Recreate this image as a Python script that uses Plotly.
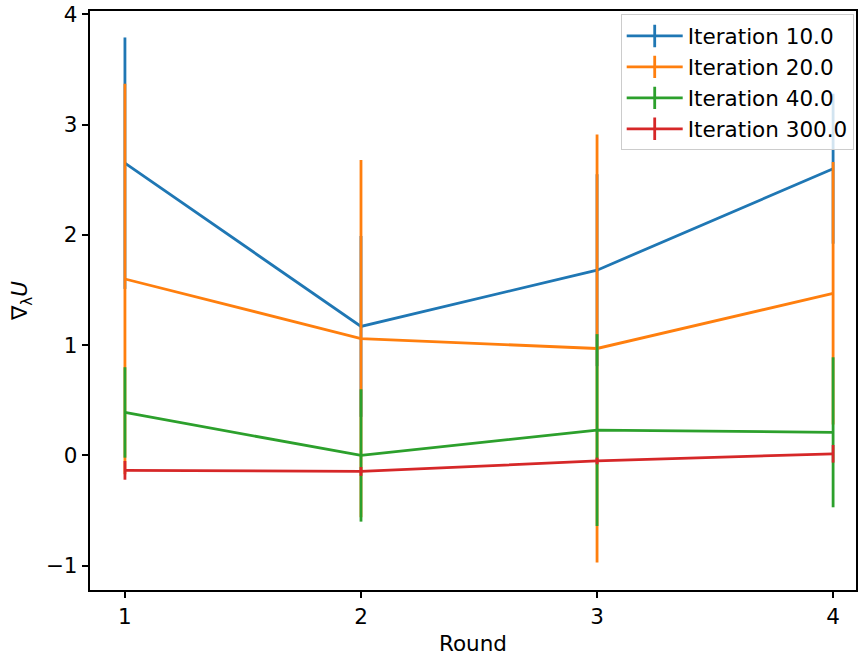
import plotly.graph_objects as go

# Gradient of utility per round, one series per iteration count
rounds = [1, 2, 3, 4]
series_names = ["Iteration 10.0", "Iteration 20.0", "Iteration 40.0", "Iteration 300.0"]
colors = ["#1f77b4", "#ff7f0e", "#2ca02c", "#d62728"]

mean_it10 = [2.65, 1.17, 1.68, 2.60]
err_it10 = [1.14, 0.82, 0.87, 0.68]
mean_it20 = [1.60, 1.06, 0.97, 1.47]
err_it20 = [1.77, 1.62, 1.94, 1.19]
mean_it40 = [0.39, 0.00, 0.23, 0.21]
err_it40 = [0.41, 0.60, 0.87, 0.68]
mean_it300 = [-0.135, -0.145, -0.05, 0.015]
err_it300 = [0.085, 0.04, 0.03, 0.08]

means = [mean_it10, mean_it20, mean_it40, mean_it300]
errs = [err_it10, err_it20, err_it40, err_it300]

FONT = "DejaVu Sans"
FS = 21.5
LW = 2.8

fig = go.Figure()

for name, color, m, e in zip(series_names, colors, means, errs):
    fig.add_trace(go.Scatter(
        x=rounds, y=m, mode="lines", name=name,
        line=dict(color=color, width=LW),
        error_y=dict(type="data", array=e, symmetric=True,
                     color=color, thickness=LW, width=0),
        showlegend=False, hoverinfo="skip",
    ))

# Legend entries drawn as a line with a vertical tick, like errorbar handles
for i, (name, color) in enumerate(zip(series_names, colors)):
    fig.add_trace(go.Scatter(
        x=[None], y=[None], mode="lines+markers", name=name,
        line=dict(color=color, width=LW),
        marker=dict(symbol="line-ns", size=20,
                    line=dict(color=color, width=LW)),
        legendgroup=f"g{i}", showlegend=True,
    ))

axis_common = dict(
    showline=True, mirror=True, linecolor="black", linewidth=1.5,
    ticks="outside", ticklen=6.5, tickwidth=1.5, tickcolor="black",
    showgrid=False, zeroline=False, ticklabeloverflow="allow",
    tickfont=dict(family=FONT, size=FS, color="black"),
)

fig.update_layout(
    width=860, height=657,
    margin=dict(l=90, r=2, t=8, b=67),
    paper_bgcolor="white", plot_bgcolor="white",
    font=dict(family=FONT, size=FS, color="black"),
    xaxis=dict(range=[0.852, 4.097], tickvals=rounds,
               title=dict(text="Round", font=dict(family=FONT, size=FS), standoff=8),
               **axis_common),
    yaxis=dict(range=[-1.22, 4.03], tickvals=[-1, 0, 1, 2, 3, 4],
               title=dict(text="∇<sub>λ</sub><i>U</i>", font=dict(family=FONT, size=FS), standoff=12),
               **axis_common),
    legend=dict(
        x=0.997, y=0.994, xanchor="right", yanchor="top",
        bgcolor="rgba(255,255,255,0.8)", bordercolor="#cccccc", borderwidth=1,
        font=dict(family=FONT, size=FS, color="black"),
        tracegroupgap=0, traceorder="grouped", itemwidth=56,
    ),
)

fig.write_html("out.html")
